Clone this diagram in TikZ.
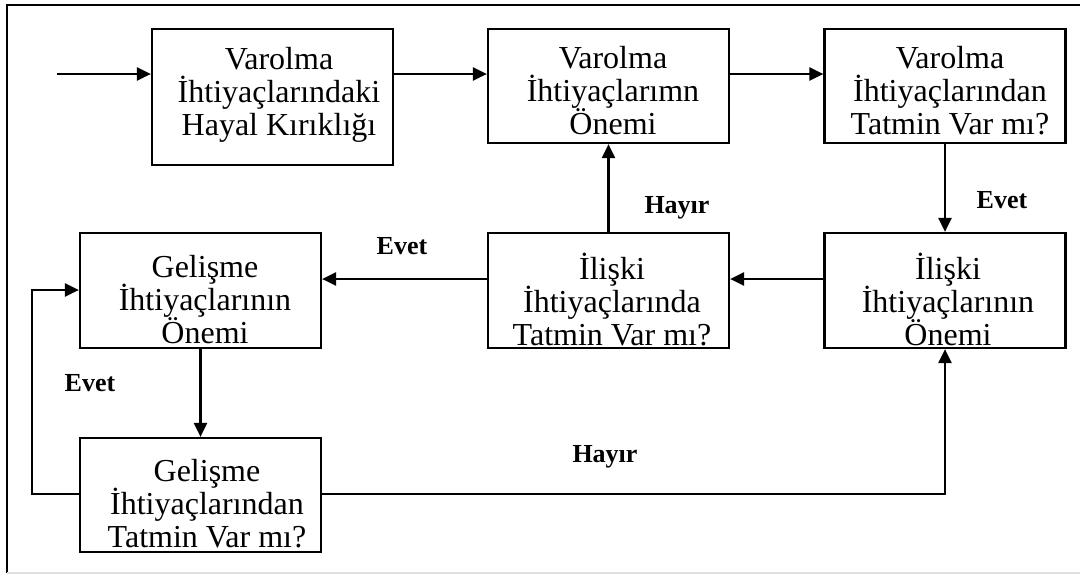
\documentclass[tikz,border=0pt]{standalone}
\usepackage{fontspec}
\setmainfont{Liberation Serif}
\usetikzlibrary{arrows.meta}

% keep a fixed baseline distance even for lines with accented capitals
\newcommand{\fixedlines}{\lineskiplimit=-1000pt\relax\lineskip=0pt\relax}
\newcommand{\bxline}[1]{\strut #1}

\tikzset{
  box/.style={draw, line width=2.2pt, rectangle, inner sep=0pt,
              minimum width=241pt},
  boxtext/.style={align=center, inner sep=0pt,
                  font=\fontsize{32}{33}\selectfont\fixedlines},
  arr/.style={line width=2.4pt, -{Triangle[length=14pt,width=13pt]}},
  tag/.style={anchor=base, inner sep=0pt,
              font=\fontsize{26}{30}\selectfont\bfseries},
}

\begin{document}
\begin{tikzpicture}[x=1pt, y=-1pt]
  \useasboundingbox (0,0) rectangle (1080,574);

  % outer frame
  \draw[line width=2pt] (1090,5) -- (7,5) -- (7,573);
  \draw[line width=1.2pt, black!12] (7,573) -- (1090,573);

  % boxes
  \node[box, minimum height=136pt] (b1) at (272.5,97) {};
  \node[box, minimum height=114pt] (b2) at (608.5,86) {};
  \node[box, minimum height=114pt] (b3) at (945,86) {};
  \node[box, minimum height=115pt] (b4) at (200.5,290.5) {};
  \node[box, minimum height=115pt] (b5) at (608.5,290.5) {};
  \node[box, minimum height=115pt] (b6) at (945,290.5) {};
  \node[box, minimum height=114pt] (b7) at (200.5,495) {};

  % box texts
  \node[boxtext] (t1) at (279,96) {\bxline{Varolma}\\\bxline{İhtiyaçlarındaki}\\\bxline{Hayal Kırıklığı}};
  \node[boxtext] (t2) at (613,95) {\bxline{Varolma}\\\bxline{İhtiyaçlarımn}\\\bxline{Önemi}};
  \node[boxtext] (t3) at (950,95) {\bxline{Varolma}\\\bxline{İhtiyaçlarından}\\\bxline{Tatmin Var mı?}};
  \node[boxtext] (t4) at (205,304) {\bxline{Gelişme}\\\bxline{İhtiyaçlarının}\\\bxline{Önemi}};
  \node[boxtext] (t5) at (612,304) {\bxline{İlişki}\\\bxline{İhtiyaçlarında}\\\bxline{Tatmin Var mı?}};
  \node[boxtext] (t6) at (948,304) {\bxline{İlişki}\\\bxline{İhtiyaçlarının}\\\bxline{Önemi}};
  \node[boxtext] (t7) at (207,508) {\bxline{Gelişme}\\\bxline{İhtiyaçlarından}\\\bxline{Tatmin Var mı?}};

  % helper rows and columns for connectors
  \coordinate (start) at (57,74);
  \coordinate (rowTop) at (0,74);
  \coordinate (rowMid) at (0,279);
  \coordinate (rowLow) at (0,494);
  \coordinate (loopTop) at (32,290);

  % connectors
  \draw[arr] (start) -- (b1.west |- rowTop);
  \draw[arr] (b1.east |- rowTop) -- (b2.west |- rowTop);
  \draw[arr] (b2.east |- rowTop) -- (b3.west |- rowTop);
  \draw[arr] (b3.south) -- (b6.north);
  \draw[arr] (b6.west |- rowMid) -- (b5.east |- rowMid);
  \draw[arr] (b5.north) -- (b2.south);
  \draw[arr] (b5.west |- rowMid) -- (b4.east |- rowMid);
  \draw[arr] (b4.south) -- (b7.north);
  \draw[arr] (b7.west |- rowLow) -| (loopTop) -- (b4.west |- loopTop);
  \draw[arr] (b7.east |- rowLow) -| (b6.south);

  % branch labels
  \node[tag] (l1) at (402,254) {Evet};
  \node[tag] (l2) at (677,213) {Hayır};
  \node[tag] (l3) at (1002,208) {Evet};
  \node[tag] (l4) at (90,391) {Evet};
  \node[tag] (l5) at (605,462) {Hayır};
\end{tikzpicture}
\end{document}
